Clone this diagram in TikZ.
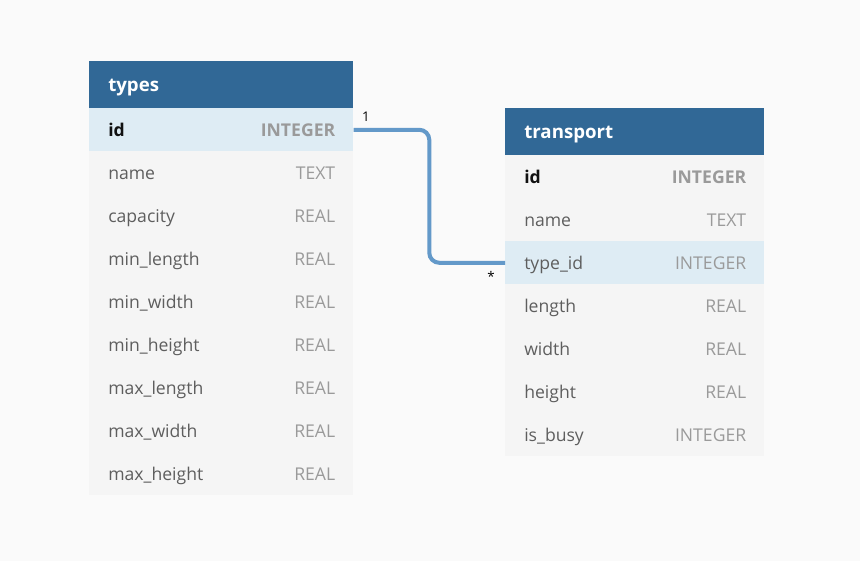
\documentclass[tikz,border=0pt]{standalone}
\usepackage{fontspec}
\setmainfont{Open Sans}
\usetikzlibrary{calc}
\definecolor{bg}{HTML}{FAFAFA}
\definecolor{hdr}{HTML}{316896}
\definecolor{rowbg}{HTML}{F5F5F5}
\definecolor{hlbg}{HTML}{DEECF4}
\definecolor{fieldtxt}{HTML}{5E5E5E}
\definecolor{typetxt}{HTML}{9A9A9A}
\definecolor{keytxt}{HTML}{111111}
\definecolor{link}{HTML}{6399C9}
\tikzset{
  x=0.75pt, y=-0.75pt,
  cell/.style={draw=none, fill=rowbg, inner sep=0pt, anchor=north west, minimum height=32.25pt},
  hdrcell/.style={draw=none, fill=hdr, inner sep=0pt, anchor=north west, minimum height=35.25pt},
  hlcell/.style={cell, fill=hlbg},
  hdrtxt/.style={anchor=base west, inner sep=0pt, text=white, font=\fontsize{14pt}{16pt}\selectfont\bfseries},
  fieldname/.style={anchor=base west, inner sep=0pt, text=fieldtxt, font=\fontsize{13.2pt}{15pt}\selectfont},
  fieldtype/.style={anchor=base east, inner sep=0pt, text=typetxt, font=\fontsize{13.2pt}{15pt}\selectfont},
  keyname/.style={fieldname, text=keytxt, font=\fontsize{13.2pt}{15pt}\selectfont\bfseries},
  keytype/.style={fieldtype, font=\fontsize{13.2pt}{15pt}\selectfont\bfseries},
  conn/.style={draw=link, line width=3pt, rounded corners=7.5pt},
  card/.style={inner sep=0pt, text=black, font=\fontsize{10pt}{12pt}\selectfont},
}
\begin{document}
\begin{tikzpicture}
\fill[bg] (0,0) rectangle (860,561);
\useasboundingbox (0,0) rectangle (860,561);
% ---------- types ----------
\node[hdrcell, minimum width=198pt] (types-h) at (89,61) {};
\node[hdrtxt] (types-ht) at (108,91) {types};
\foreach \i/\n/\t in {1/id/INTEGER,2/name/TEXT,3/capacity/REAL,4/min\_length/REAL,5/min\_width/REAL,6/min\_height/REAL,7/max\_length/REAL,8/max\_width/REAL,9/max\_height/REAL}{
  \ifnum\i=1
    \node[hlcell, minimum width=198pt] (types-r\i) at (89,{108+(\i-1)*43}) {};
    \node[keyname] (types-n\i) at (108,{136.5+(\i-1)*43}) {\n};
    \node[keytype] (types-t\i) at (335.5,{136.5+(\i-1)*43}) {\t};
  \else
    \node[cell, minimum width=198pt] (types-r\i) at (89,{108+(\i-1)*43}) {};
    \node[fieldname] (types-n\i) at (108,{136.5+(\i-1)*43}) {\n};
    \node[fieldtype] (types-t\i) at (335.5,{136.5+(\i-1)*43}) {\t};
  \fi
}
% ---------- transport ----------
\node[hdrcell, minimum width=194.25pt] (tr-h) at (505,108) {};
\node[hdrtxt] (tr-ht) at (524,138) {transport};
\foreach \i/\n/\t in {1/id/INTEGER,2/name/TEXT,3/type\_id/INTEGER,4/length/REAL,5/width/REAL,6/height/REAL,7/is\_busy/INTEGER}{
  \ifnum\i=1
    \node[cell, minimum width=194.25pt] (tr-r\i) at (505,{155+(\i-1)*43}) {};
    \node[keyname] (tr-n\i) at (524,{183.5+(\i-1)*43}) {\n};
    \node[keytype] (tr-t\i) at (746.5,{183.5+(\i-1)*43}) {\t};
  \else
    \ifnum\i=3
      \node[hlcell, minimum width=194.25pt] (tr-r\i) at (505,{155+(\i-1)*43}) {};
    \else
      \node[cell, minimum width=194.25pt] (tr-r\i) at (505,{155+(\i-1)*43}) {};
    \fi
    \node[fieldname] (tr-n\i) at (524,{183.5+(\i-1)*43}) {\n};
    \node[fieldtype] (tr-t\i) at (746.5,{183.5+(\i-1)*43}) {\t};
  \fi
}
% ---------- connector ----------
\coordinate (bend) at ($(types-r1.east)!0.5!(tr-r3.west)$);
\draw[conn] (types-r1.east) -| (bend) |- (tr-r3.west);
\node[card] (c1) at (366,117) {1};
\node[card] (c2) at (491,276) {*};
\end{tikzpicture}
\end{document}
